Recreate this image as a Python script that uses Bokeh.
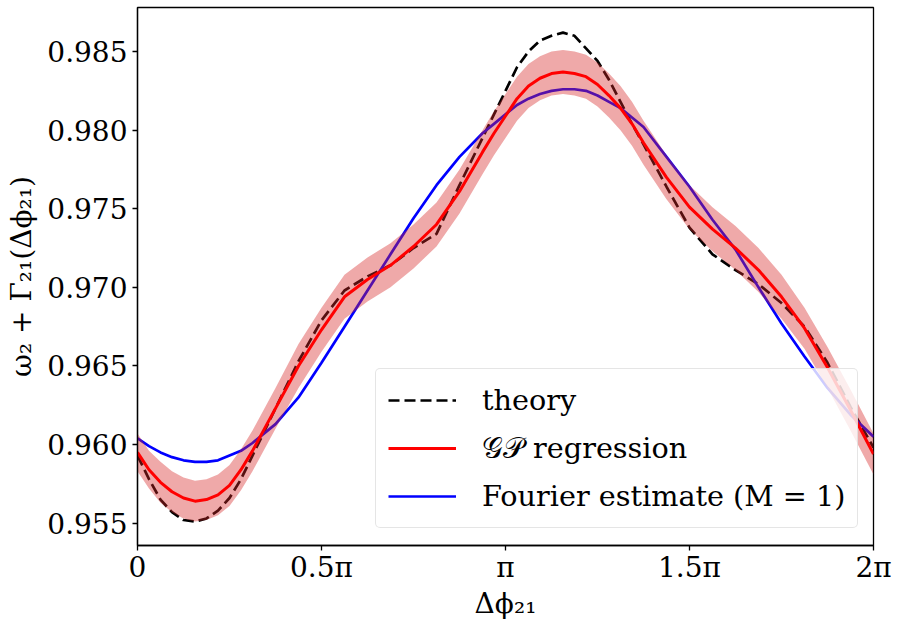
import numpy as np
from bokeh.plotting import figure
from bokeh.models import Range1d, FixedTicker, Legend, LegendItem, PrintfTickFormatter, ColumnDataSource
from bokeh.embed import file_html
from bokeh.resources import INLINE

# ---------------- data ----------------
delta_phi = [0.0, 0.0982, 0.1963, 0.2945, 0.3927, 0.4909, 0.5890, 0.6872, 0.7854, 0.8836,
             0.9817, 1.1781, 1.3744, 1.5708, 1.7671, 1.9635, 2.1598, 2.3562, 2.5525,
             2.7489, 2.9452, 3.0434, 3.1416, 3.2398, 3.3379, 3.4361, 3.5343, 3.6325,
             3.7306, 3.8288, 3.9270, 4.0252, 4.1233, 4.2215, 4.3197, 4.5160, 4.7124,
             4.9087, 5.1051, 5.3014, 5.4978, 5.6941, 5.8905, 6.0868, 6.2832]

theory = [0.9593, 0.9578, 0.9565, 0.9557, 0.9552, 0.9551, 0.9553, 0.9558, 0.9566, 0.9578,
          0.9593, 0.9623, 0.9653, 0.9679, 0.9698, 0.9707, 0.9714, 0.9725, 0.9734,
          0.9765, 0.9795, 0.9810, 0.9825, 0.9840, 0.9850, 0.9857, 0.9860, 0.9862,
          0.9860, 0.9852, 0.9844, 0.9832, 0.9818, 0.9804, 0.9791, 0.9764, 0.9738,
          0.9721, 0.9711, 0.9702, 0.9690, 0.9675, 0.9652, 0.9624, 0.9598]

gp_mean = [0.9595, 0.9584, 0.9576, 0.9570, 0.9566, 0.9564, 0.9565, 0.9568, 0.9574, 0.9584,
           0.9596, 0.9623, 0.9650, 0.9673, 0.9694, 0.9705, 0.9714, 0.9726, 0.9740,
           0.9761, 0.9786, 0.9798, 0.9809, 0.9820, 0.9828, 0.9833, 0.9836, 0.9837,
           0.9836, 0.9834, 0.9829, 0.9822, 0.9814, 0.9804, 0.9792, 0.9770, 0.9751,
           0.9737, 0.9725, 0.9711, 0.9694, 0.9674, 0.9649, 0.9622, 0.9594]

gp_sd = [0.0012, 0.0012, 0.0013, 0.0013, 0.0013, 0.0013, 0.0013, 0.0013, 0.0013, 0.0013,
         0.0013, 0.0013, 0.0014, 0.0014, 0.0014, 0.0014, 0.0014, 0.0014, 0.0014,
         0.0014, 0.0014, 0.0014, 0.0014, 0.0014, 0.0014, 0.0014, 0.0014, 0.0014,
         0.0014, 0.0014, 0.0014, 0.0014, 0.0014, 0.0014, 0.0014, 0.0014, 0.0014,
         0.0014, 0.0014, 0.0014, 0.0014, 0.0013, 0.0013, 0.0013, 0.0013]

fourier = [0.9604, 0.9599, 0.9595, 0.9592, 0.9590, 0.9589, 0.9589, 0.9590, 0.9593, 0.9596,
           0.9601, 0.9613, 0.9630, 0.9652, 0.9675, 0.9698, 0.9721, 0.9744, 0.9765,
           0.9783, 0.9798, 0.9804, 0.9810, 0.9816, 0.9820, 0.9823, 0.9825, 0.9826,
           0.9826, 0.9825, 0.9822, 0.9818, 0.9814, 0.9808, 0.9802, 0.9783, 0.9764,
           0.9743, 0.9724, 0.9700, 0.9677, 0.9656, 0.9636, 0.9619, 0.9605]

x_tick_labels = ["0", "0.5π", "π", "1.5π", "2π"]
y_ticks = [0.955, 0.960, 0.965, 0.970, 0.975, 0.980, 0.985]

labels = ["theory", "𝒢𝒫 regression", "Fourier estimate (M = 1)"]
x_label = "Δϕ₂₁"
y_label = "ω₂ + Γ₂₁(Δϕ₂₁)"

# ---------------- figure ----------------
FONT = "DejaVu Serif"
p = figure(width=898, height=629,
           x_range=Range1d(0, 2 * np.pi), y_range=Range1d(0.95358, 0.9878),
           output_backend="svg", toolbar_location=None,
           min_border_left=137, min_border_right=25,
           min_border_top=7, min_border_bottom=84)
p.xgrid.visible = False
p.ygrid.visible = False
p.outline_line_color = "black"
p.outline_line_width = 1.3
p.outline_line_alpha = 1.0
p.background_fill_color = "white"
p.border_fill_color = "white"

src = ColumnDataSource(dict(
    x=delta_phi, theory=theory, gp=gp_mean, fourier=fourier,
    lo=[m - s for m, s in zip(gp_mean, gp_sd)],
    hi=[m + s for m, s in zip(gp_mean, gp_sd)],
))

r_theory = p.line("x", "theory", source=src, line_color="black", line_width=2.7,
                  line_dash="11 5")
r_four = p.line("x", "fourier", source=src, line_color="#0000ff", line_width=2.7)
p.varea(x="x", y1="lo", y2="hi", source=src, fill_color="#d62728", fill_alpha=0.4)
r_gp = p.line("x", "gp", source=src, line_color="#ff0000", line_width=3)

# axes
x_tick_vals = [0, 0.5 * np.pi, np.pi, 1.5 * np.pi, 2 * np.pi]
p.xaxis.ticker = FixedTicker(ticks=x_tick_vals)
p.xaxis.major_label_overrides = {v: s for v, s in zip(x_tick_vals, x_tick_labels)}
p.yaxis.ticker = FixedTicker(ticks=y_ticks)
p.yaxis.formatter = PrintfTickFormatter(format="%.3f")
p.xaxis.axis_label = x_label
p.yaxis.axis_label = y_label

for ax in (p.xaxis[0], p.yaxis[0]):
    ax.axis_line_color = "black"
    ax.axis_line_width = 1.3
    ax.major_tick_line_color = "black"
    ax.major_tick_line_width = 1.3
    ax.major_tick_out = 5
    ax.major_tick_in = 0
    ax.minor_tick_out = 0
    ax.minor_tick_in = 0
    ax.major_label_text_font = FONT
    ax.major_label_text_font_size = "28px"
    ax.major_label_text_color = "black"
    ax.axis_label_text_font = FONT
    ax.axis_label_text_font_size = "28px"
    ax.axis_label_text_font_style = "normal"
    ax.axis_label_text_color = "black"
p.yaxis[0].major_label_standoff = 5
p.yaxis[0].axis_label_standoff = 6
p.xaxis[0].major_label_standoff = 0
p.xaxis[0].axis_label_standoff = 0

legend = Legend(items=[
    LegendItem(label=labels[0], renderers=[r_theory]),
    LegendItem(label=labels[1], renderers=[r_gp]),
    LegendItem(label=labels[2], renderers=[r_four]),
], location=(238, 17))
legend.label_text_font = FONT
legend.label_text_font_size = "28.7px"
legend.label_text_color = "black"
legend.glyph_width = 68
legend.glyph_height = 38
legend.label_height = 38
legend.label_standoff = 26
legend.padding = 12
legend.spacing = 10
legend.margin = 0
legend.border_line_color = "#cccccc"
legend.border_line_width = 1
legend.background_fill_alpha = 0.8
if "border_radius" in legend.properties():
    legend.border_radius = 5
p.add_layout(legend)

with open("out.html", "w", encoding="utf-8") as f:
    f.write(file_html(p, INLINE))
